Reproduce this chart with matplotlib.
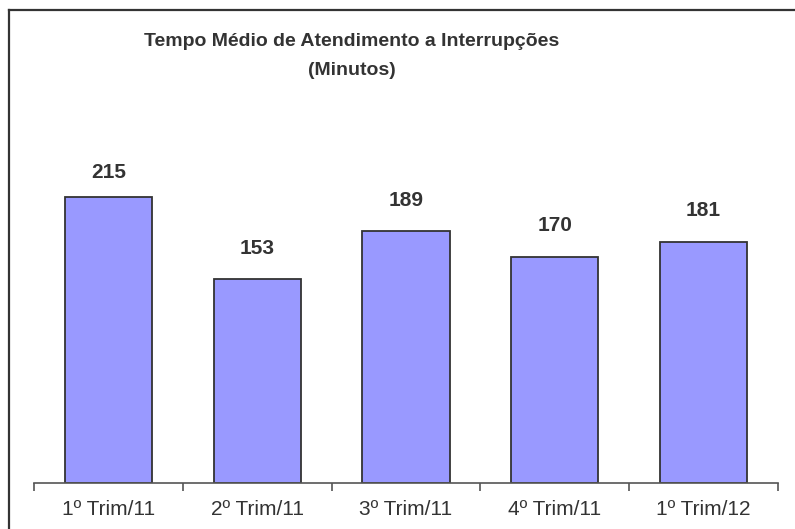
import matplotlib
matplotlib.use("Agg")
import matplotlib.pyplot as plt
from matplotlib.lines import Line2D

categories = ["1º Trim/11", "2º Trim/11", "3º Trim/11", "4º Trim/11", "1º Trim/12"]
values = [215, 153, 189, 170, 181]
title = "Tempo Médio de Atendimento a Interrupções\n(Minutos)"

plt.rcParams['font.family'] = ['Liberation Sans', 'DejaVu Sans']

W, H = 795, 529
fig = plt.figure(figsize=(W / 100, H / 100), dpi=100)
fig.patch.set_facecolor('white')

ax = fig.add_axes([34 / W, (H - 483) / H, (778 - 34) / W, (483 - 150) / H])
x = list(range(len(categories)))
ax.bar(x, values, width=0.585, color='#9999FF', edgecolor='#333333', linewidth=1.3, zorder=2)
ax.set_xlim(-0.5, len(categories) - 0.5)
ax.set_ylim(0, 250)

for s in ['top', 'right', 'left']:
    ax.spines[s].set_visible(False)
ax.spines['bottom'].set_color('#555555')
ax.spines['bottom'].set_linewidth(1.2)
ax.set_yticks([])
ax.set_xticks(x)
ax.set_xticklabels(categories, fontsize=15, color='#333333')
ax.tick_params(axis='x', which='major', length=0, pad=12)
ax.set_xticks([i - 0.5 for i in range(len(categories) + 1)], minor=True)
ax.tick_params(axis='x', which='minor', length=6, width=1.2, color='#555555', direction='out')

# value labels sit above the bars, but are kept inside the plot area
label_gap = 23.3     # data units above bar top
label_max = 233.3    # top limit for label centres
for xi, v in zip(x, values):
    ax.text(xi, min(v + label_gap, label_max), str(v), ha='center', va='center',
            fontsize=15, fontweight='bold', color='#333333')

fig.text(352 / W, 1 - 56 / H, title, ha='center', va='center', fontsize=14,
         fontweight='bold', color='#333333', linespacing=1.9)

# outer frame (partially visible)
fig.add_artist(Line2D([9 / W, 9 / W], [0, 1 - 10 / H], transform=fig.transFigure,
                      color='#333333', linewidth=1.6))
fig.add_artist(Line2D([9 / W, 1], [1 - 10 / H, 1 - 10 / H], transform=fig.transFigure,
                      color='#333333', linewidth=1.6))

fig.savefig('out.png', dpi=100, facecolor='white')
